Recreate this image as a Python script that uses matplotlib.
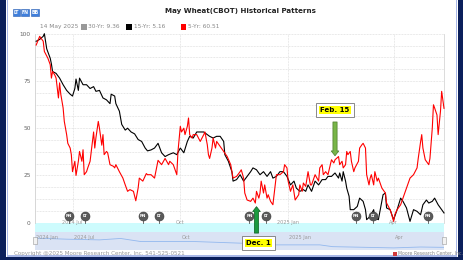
import matplotlib
matplotlib.use('Agg')
import matplotlib.pyplot as plt
import numpy as np
import pandas as pd
from matplotlib.patches import Rectangle

# -------------------------- Data --------------------------
start_date = pd.Timestamp('2024-05-30')
end_date = pd.Timestamp('2025-05-14')

# days since start_date, pattern value (0-100)
days_15yr = [1, 4, 7, 8, 10, 13, 14, 15, 18, 21,
             24, 27, 30, 32, 34, 35, 37, 38, 41, 44,
             47, 50, 52, 55, 58, 61, 64, 65, 68, 69,
             72, 74, 77, 79, 82, 85, 88, 91, 94, 96,
             99, 102, 105, 108, 111, 114, 118, 121, 124, 127,
             130, 132, 135, 138, 141, 144, 147, 149, 152, 155,
             158, 161, 162, 165, 168, 169, 172, 175, 178, 181,
             184, 186, 189, 192, 195, 198, 201, 203, 206, 209,
             212, 215, 218, 221, 223, 226, 229, 231, 233, 236,
             239, 242, 245, 248, 250, 253, 256, 259, 260, 262,
             263, 265, 266, 268, 269, 272, 275, 277, 280, 282,
             283, 286, 289, 290, 293, 296, 297, 299, 300, 303,
             306, 309, 312, 314, 317, 320, 323, 326, 329, 331,
             334, 336, 339, 341, 344, 347, 349]
vals_15yr = [96, 97, 98.6, 100, 92, 87, 84, 80, 79, 76.5,
             73, 70, 68, 67, 71, 76, 70, 76.5, 73, 73,
             71, 72, 69.5, 70, 66, 65, 63, 68, 67, 63,
             59, 52, 49, 50, 48, 47, 44, 43, 39.5, 38,
             38.5, 39.5, 42, 37, 35, 36, 37, 36, 39.5, 37,
             43, 45.7, 44.8, 48, 48, 48, 46.6, 45.7, 44.8, 45.7,
             45.7, 43, 36, 32.5, 27, 22, 22.8, 25.4, 22, 24.5,
             27, 29, 28, 25.4, 27, 24.5, 27, 23.6, 24.5, 27,
             27, 24.5, 20, 22, 18.3, 16.6, 17.5, 16.6, 20, 16.6,
             22, 20, 22.8, 22.8, 24.5, 24.5, 26.3, 23.6, 26.3, 22,
             27, 22, 18.3, 14, 6.9, 6.9, 8.6, 13, 11.3, 6.9,
             1.6, 3.4, 6.9, 2.5, 1.6, 11.3, 14.8, 15.7, 7.8, 6.9,
             1.6, 6.9, 13, 11.3, 7.8, 0.7, 6.9, 6, 4.2, 9.5,
             12, 10.4, 11.3, 13, 9.5, 6.9, 5.16]

days_5yr = [1, 4, 7, 8, 11, 13, 14, 15, 17, 18,
            20, 21, 22, 24, 25, 27, 28, 30, 31, 32,
            34, 35, 37, 38, 40, 41, 42, 44, 45, 47,
            48, 50, 51, 52, 54, 55, 57, 58, 59, 61,
            62, 64, 67, 68, 69, 72, 75, 77, 79, 81,
            84, 86, 88, 89, 92, 95, 96, 99, 102, 105,
            108, 111, 114, 115, 118, 121, 122, 124, 125, 127,
            128, 130, 131, 132, 134, 135, 138, 141, 144, 145,
            147, 148, 149, 151, 152, 154, 155, 158, 161, 164,
            167, 169, 172, 175, 176, 178, 179, 181, 184, 186,
            188, 189, 191, 192, 193, 195, 196, 198, 199, 201,
            203, 205, 206, 209, 212, 213, 215, 216, 218, 220,
            222, 225, 226, 228, 229, 231, 233, 235, 236, 238,
            239, 242, 243, 245, 246, 248, 250, 252, 253, 255,
            256, 259, 260, 262, 263, 265, 266, 267, 269, 270,
            272, 273, 276, 277, 279, 280, 282, 283, 285, 286,
            287, 289, 290, 292, 293, 296, 299, 300, 303, 304,
            306, 307, 309, 312, 314, 317, 320, 323, 326, 327,
            329, 330, 331, 333, 336, 337, 339, 340, 341, 343,
            344, 346, 347, 349]
vals_5yr = [94, 98.6, 96, 90.6, 87, 83.6, 76.5, 80, 78, 76.5,
            66, 74, 68, 60.7, 53.6, 46.6, 42, 39.5, 36, 27,
            32.5, 25, 32.5, 37.7, 32.5, 38.6, 25.4, 27, 29, 32.5,
            37.7, 48, 39.5, 45, 53.6, 50, 41, 46.6, 36, 37.7,
            37, 30.7, 29.8, 29, 30.7, 27, 23.6, 20, 16.6, 17.5,
            16.6, 11.6, 18.3, 23.6, 22, 26, 25.4, 25.4, 23.6, 33,
            30.7, 34, 30.7, 32.5, 30.7, 25.4, 37.7, 51, 48, 50,
            46.6, 51, 55.4, 46.6, 44.8, 46.6, 46.6, 43, 46.6, 48,
            41.3, 36, 34, 39.5, 44.8, 39.5, 43, 40.4, 37.7, 35,
            30.7, 23.6, 24.5, 27, 28, 23.6, 15.7, 12, 11.3, 13,
            10.4, 16.6, 13, 15.7, 22, 15.7, 20, 13, 14.8, 11.3,
            9.5, 20, 25.4, 25.4, 27, 30.7, 29, 22, 16.6, 20,
            12, 14.8, 20, 16.6, 21, 19.2, 27, 20, 20, 23.6,
            25.4, 22, 29, 30.7, 25.4, 27, 25.4, 30.7, 33.3, 31.6,
            33.3, 35, 30.7, 32.5, 29, 30.7, 37.7, 36, 37.7, 32.5,
            27, 29, 32.5, 39.5, 41.3, 42, 39.5, 25.4, 20, 23.6,
            25.4, 20, 27, 22, 23.6, 18.3, 15.7, 10.4, 6.9, 5.1,
            0.7, 4.2, 6.9, 9.5, 13, 18.3, 23.6, 25.4, 29, 34,
            42.7, 46.6, 39.5, 33.3, 30.7, 34, 50, 62.4, 60.7, 57,
            46.6, 59, 69.5, 60.51]

# navigator (overview) series
nav_days = [0, 27, 55, 73, 90, 107, 135, 178, 192, 243, 254, 306, 329, 349]
nav_vals = [64, 58, 54, 62, 45, 45, 45, 35, 26, 26, 16, 9, 14, 12]

month_ticks = ['2024-07-01', '2024-10-01', '2025-01-01', '2025-04-01']
month_labels = ['2024 Jul', 'Oct', '2025 Jan', 'Apr']
nav_labels = ['2024 Jan', '2024 Jul', 'Oct', '2025 Jan', 'Apr']

fn_dates = ['2024-06-28', '2024-08-30', '2024-11-29', '2025-02-28', '2025-04-30']
lt_dates = ['2024-07-12', '2024-09-13', '2024-12-13', '2025-03-14']

legend_items = [('30-Yr: 9.36', '#999999'), ('15-Yr: 5.16', '#000000'), ('5-Yr: 60.51', '#ff0000')]

# -------------------------- Figure --------------------------
W, H = 463, 260
fig = plt.figure(figsize=(W / 100, H / 100), dpi=100)
fig.patch.set_facecolor('white')


def fx(px):
    return px / W


def fy(py):
    return 1 - py / H


def frect(x0, y0, x1, y1, **kw):
    fig.patches.append(Rectangle((fx(x0), fy(y1)), fx(x1) - fx(x0), fy(y0) - fy(y1),
                                 transform=fig.transFigure, **kw))


# frame
navy = '#0b1f5b'
frect(0, 0, 5.5, H, color=navy, lw=0)
frect(457.5, 0, W, H, color=navy, lw=0)
frect(0, 257, W, H, color=navy, lw=0)
frect(7, 0, 8, 256, color='#a9b8e8', lw=0)
frect(456, 0, 457, 256, color='#a9b8e8', lw=0)
frect(7, 255.5, 457, 256.5, color='#a9b8e8', lw=0)

# buttons
for (x0, x1), lbl in zip([(12.7, 20), (20.7, 29.3), (30.7, 39.3)], ['LT', 'FN', 'BB']):
    frect(x0, 9.3, x1, 15.5, fc='#3f7fdc', ec='#2a5db0', lw=0.4)
    fig.text(fx((x0 + x1) / 2), fy(12.4), lbl, color='white', fontsize=3.4,
             fontweight='bold', ha='center', va='center')

# title
fig.text(fx(240), fy(11), 'May Wheat(CBOT) Historical Patterns', fontsize=5.1,
         fontweight='bold', color='#222222', ha='center', va='center')

# legend row
fig.text(fx(40), fy(26.7), '14 May 2025', fontsize=4.2, color='#888888', va='center')
for xpos, (lbl, col) in zip([81, 126, 181], legend_items):
    frect(xpos, 24, xpos + 5.5, 29.5, color=col, lw=0)
    fig.text(fx(xpos + 7.5), fy(26.7), lbl, fontsize=4.2, color='#888888', va='center')

# cyan band below the plot
frect(35, 222.7, 444, 231.7, color='#cdfbfd', lw=0, zorder=0.5)

# -------------------------- Main axes --------------------------
ax = fig.add_axes([fx(35), fy(222.7), fx(444) - fx(35), fy(33.7) - fy(222.7)])
ax.set_facecolor('none')
ax.set_zorder(3)

d15 = start_date + pd.to_timedelta(days_15yr, unit='D')
d5 = start_date + pd.to_timedelta(days_5yr, unit='D')
ax.plot(d15, vals_15yr, color='black', lw=0.8, zorder=3, clip_on=False)
ax.plot(d5, vals_5yr, color='#ff0000', lw=0.8, zorder=4, clip_on=False)

ax.set_xlim(start_date, end_date)
ax.set_ylim(0, 100)

ax.set_yticks([0, 25, 50, 75, 100])
ax.set_yticks(np.arange(0, 100.1, 6.25), minor=True)
ax.tick_params(axis='y', which='both', length=0, pad=3, labelsize=4.2, labelcolor='#666666')
ax.set_xticks(pd.to_datetime(month_ticks))
ax.set_xticklabels([])
ax.tick_params(axis='x', length=0)
ax.grid(True, which='both', color='#dadada', linestyle=(0, (1, 1)), linewidth=0.55)
ax.set_axisbelow(True)
for s in ['top', 'bottom']:
    ax.spines[s].set_visible(False)
ax.spines['left'].set_color('#d0d0d0')
ax.spines['left'].set_linewidth(0.6)
ax.spines['right'].set_color('#d6d6d6')
ax.spines['right'].set_linestyle((0, (1, 1)))
ax.spines['right'].set_linewidth(0.6)

for d, lbl in zip(pd.to_datetime(month_ticks), month_labels):
    ax.text(d, 0, lbl, fontsize=3.6, color='#999999', ha='center', va='center', zorder=2)

# FN / LT markers
xt = ax.get_xaxis_transform()
for dates, lbl in [(fn_dates, 'FN'), (lt_dates, 'LT')]:
    for d in pd.to_datetime(dates):
        ax.plot([d, d], [0, 0.02], transform=xt, color='#555555', lw=0.6, zorder=5, clip_on=False)
        ax.scatter([d], [0.034], transform=xt, s=42, c='#5a5a5a', edgecolors='#3a3a3a',
                   linewidths=0.4, zorder=6, clip_on=False)
        ax.text(d, 0.034, lbl, transform=xt, color='white', fontsize=3.1, fontweight='bold',
                ha='center', va='center', zorder=7)

# annotations
dec_x = pd.Timestamp('2024-12-05')
ax.annotate('', xy=(dec_x, 8.5), xytext=(dec_x, -5.5), annotation_clip=False,
            arrowprops=dict(arrowstyle='simple,head_length=0.35,head_width=0.55,tail_width=0.3',
                            mutation_scale=10, fc='#1a9b3f', ec='#0b5e22', lw=0.5,
                            shrinkA=0, shrinkB=0), zorder=8)
box_x = pd.Timestamp('2024-12-07')
ax.text(box_x, -10.7, 'Dec. 1', color=(0, 0, 0, 0), fontsize=5, fontweight='bold',
        ha='center', va='center', zorder=9, clip_on=False,
        bbox=dict(boxstyle='square,pad=0.6', fc='white', ec='#777777', lw=0.6))
ax.text(box_x, -10.7, 'Dec. 1', color='black', fontsize=5, fontweight='bold',
        ha='center', va='center', zorder=10, clip_on=False,
        bbox=dict(boxstyle='square,pad=0.14', fc='#ffff00', ec='none'))

feb_x = pd.Timestamp('2025-02-10')
ax.annotate('', xy=(feb_x, 35.4), xytext=(feb_x, 53.3), annotation_clip=False,
            arrowprops=dict(arrowstyle='simple,head_length=0.35,head_width=0.55,tail_width=0.3',
                            mutation_scale=10, fc='#78b548', ec='#4a7a2a', lw=0.5,
                            shrinkA=0, shrinkB=0), zorder=8)
ax.text(feb_x, 59.6, 'Feb. 15', color=(0, 0, 0, 0), fontsize=5, fontweight='bold',
        ha='center', va='center', zorder=9,
        bbox=dict(boxstyle='square,pad=0.6', fc='white', ec='#777777', lw=0.6))
ax.text(feb_x, 59.6, 'Feb. 15', color='black', fontsize=5, fontweight='bold',
        ha='center', va='center', zorder=10,
        bbox=dict(boxstyle='square,pad=0.14', fc='#ffff00', ec='none'))

# -------------------------- Navigator --------------------------
nav = fig.add_axes([fx(35), fy(249.5), fx(444) - fx(35), fy(231.7) - fy(249.5)])
nav.set_zorder(2)
nav.set_facecolor('#dae3f4')
nav.plot(start_date + pd.to_timedelta(nav_days, unit='D'), nav_vals, color='#93b8ee', lw=0.6)
nav.set_xlim(start_date, end_date)
nav.set_ylim(0, 100)
nav.set_xticks([])
nav.set_yticks([])
for s in nav.spines.values():
    s.set_visible(False)
nav_pos = [start_date + pd.Timedelta(days=1)] + [d + pd.Timedelta(days=1) for d in pd.to_datetime(month_ticks)]
for d, lbl in zip(nav_pos, nav_labels):
    nav.text(d, 68, lbl, fontsize=3.6, color='#999999', ha='left', va='center')
for xa in [0, 1]:
    nav.add_patch(Rectangle((xa - 0.005, 0.3), 0.01, 0.42, transform=nav.transAxes,
                            fc='#f2f2f2', ec='#999999', lw=0.4, clip_on=False, zorder=5))

# footer
fig.text(fx(14), fy(254), 'Copyright @2025 Moore Research Center, Inc. 541-525-0521',
         fontsize=4.1, color='#999999', va='center')
frect(393, 251.5, 397, 255.5, color='#d23a3a', lw=0)
fig.text(fx(398.5), fy(253.6), 'Moore Research Center, Inc.', fontsize=3.3,
         color='#888888', va='center')

fig.savefig('out.png', dpi=100)
